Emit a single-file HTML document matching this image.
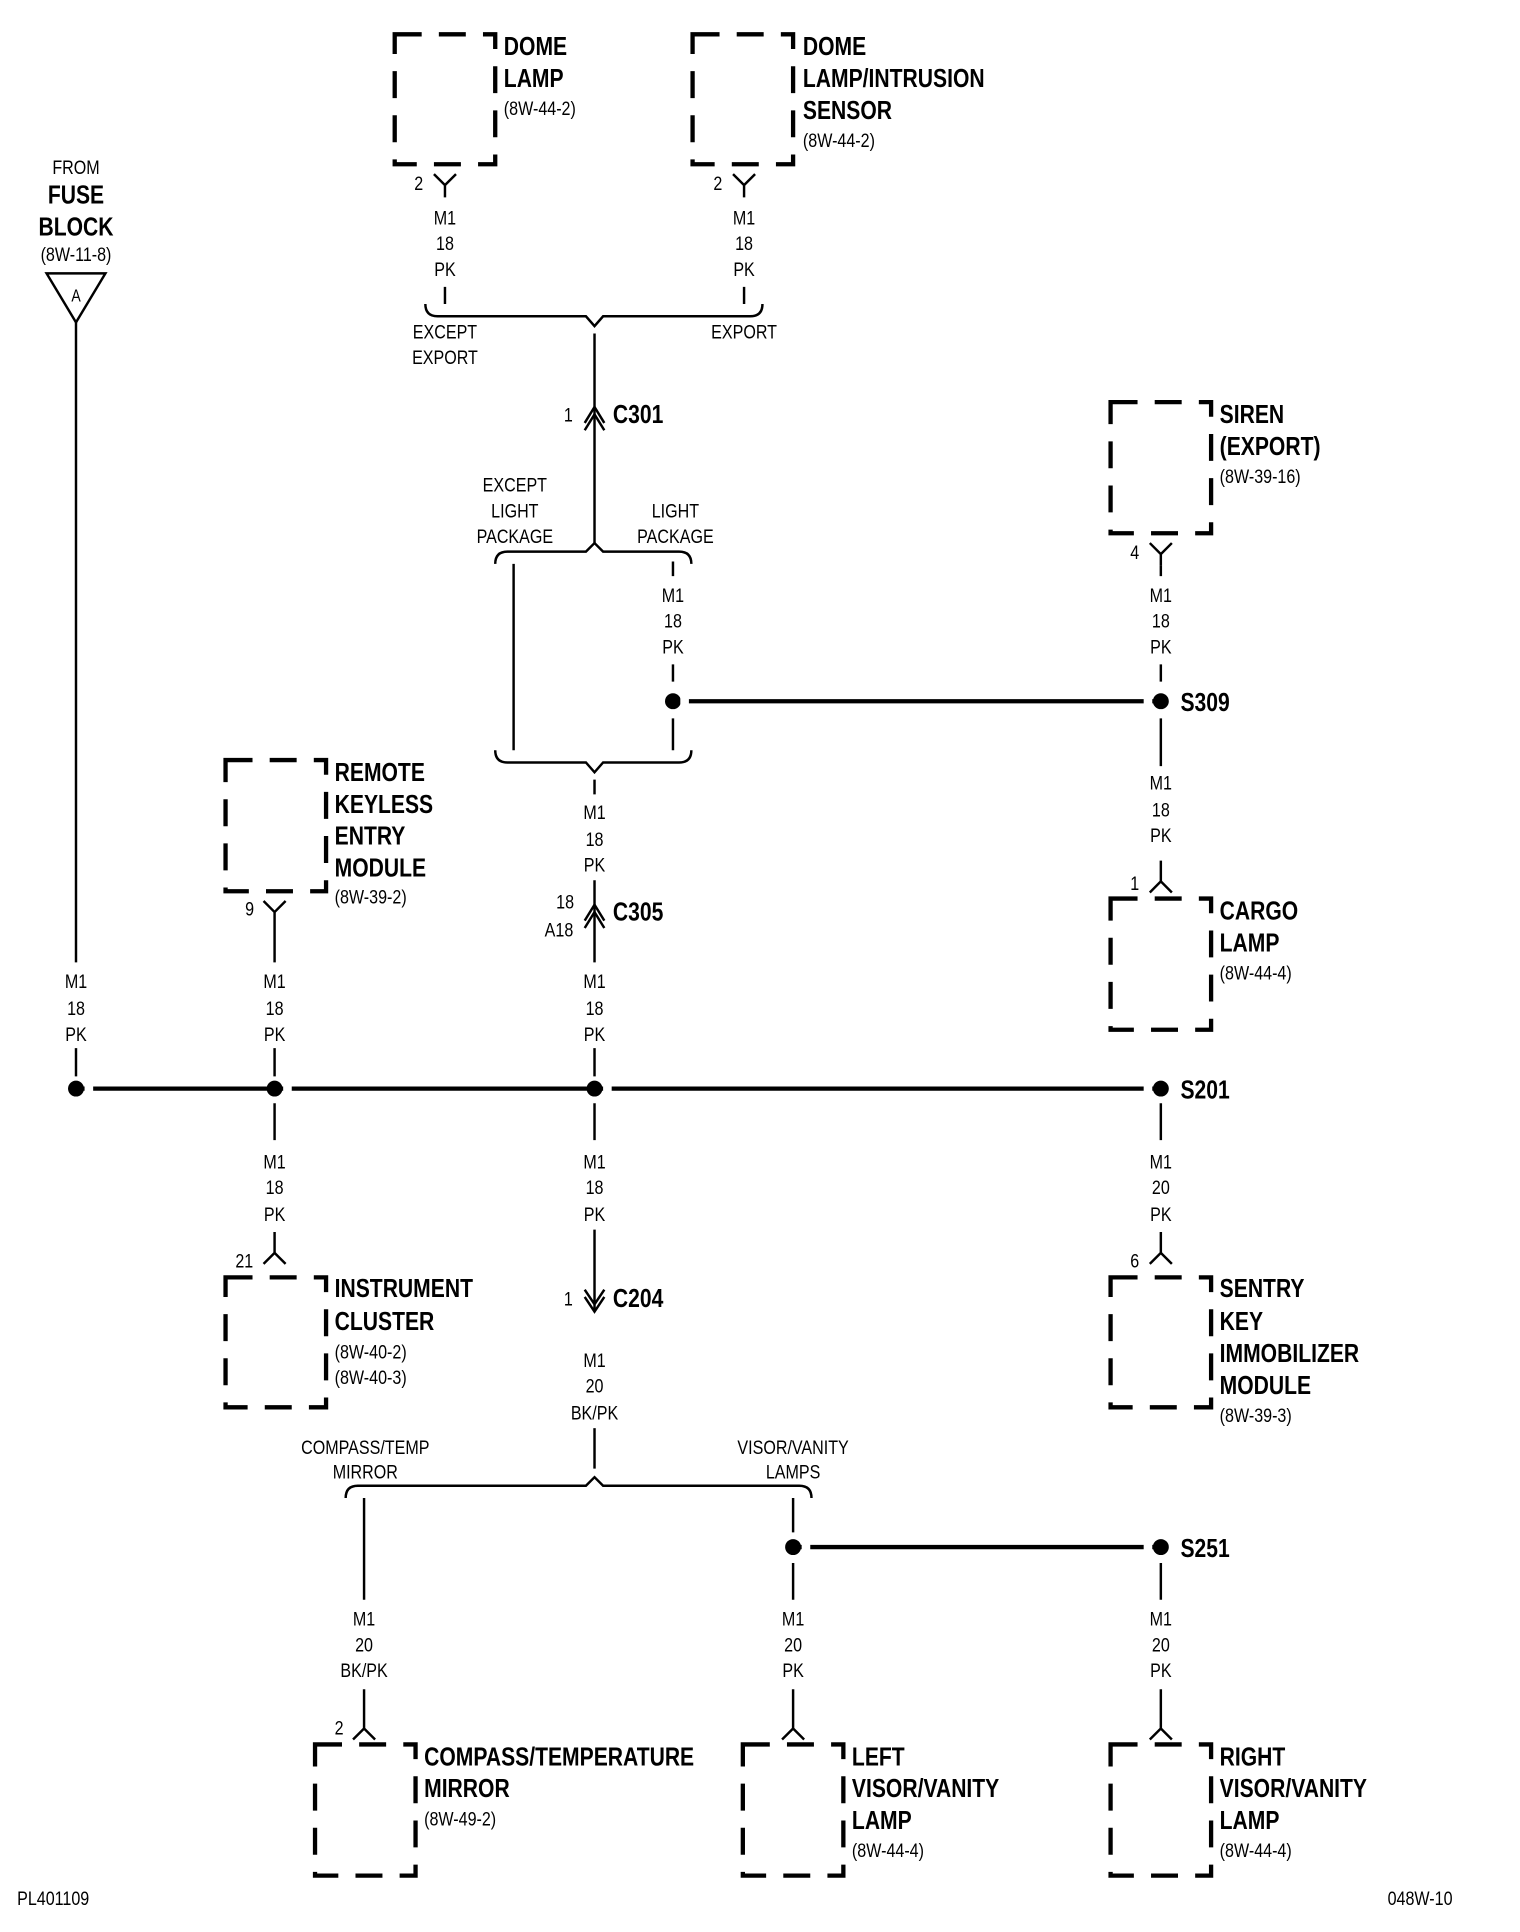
<!DOCTYPE html>
<html><head><meta charset="utf-8"><style>
html,body{margin:0;padding:0;background:#fff}
svg{display:block}
text{font-family:"Liberation Sans Narrow","Liberation Sans",sans-serif;fill:#000;transform-box:fill-box;transform-origin:left center;transform:scaleX(0.82)}
.t{font-size:16px}
.b{font-size:21px;font-weight:bold}
.m{text-anchor:middle;transform-origin:center center}
</style></head><body>
<svg width="1520" height="1932" viewBox="0 0 1240 1576" preserveAspectRatio="none" xmlns="http://www.w3.org/2000/svg">
<g fill="none" stroke="#000" stroke-width="3">
<g stroke-dasharray="22,14" stroke-width="3.5">
<rect x="322" y="28" width="82" height="106"/>
<rect x="565" y="28" width="82" height="106"/>
<rect x="906" y="328" width="82" height="107"/>
<rect x="184" y="620" width="82" height="107"/>
<rect x="906" y="733" width="82" height="107"/>
<rect x="184" y="1042" width="82" height="106"/>
<rect x="906" y="1042" width="82" height="106"/>
<rect x="257" y="1423" width="82" height="107"/>
<rect x="606" y="1423" width="82" height="107"/>
<rect x="906" y="1423" width="82" height="107"/>
</g>
<g stroke-width="2">
<path d="M354 142 L363 151 L372 142 M363 151 V161"/>
<path d="M598 142 L607 151 L616 142 M607 151 V161"/>
<path d="M938 443 L947 452 L956 443 M947 452 V461"/>
<path d="M215 735 L224 744 L233 735 M224 744 V785 M224 855 V878"/>
<path d="M947 702 V720 M938 728 L947 719 L956 728"/>
<path d="M224 1005 V1022 M215 1031 L224 1022 L233 1031"/>
<path d="M947 1005 V1022 M938 1031 L947 1022 L956 1031"/>
<path d="M297 1378 V1410 M288 1419 L297 1410 L306 1419"/>
<path d="M647 1378 V1410 M638 1419 L647 1410 L656 1419"/>
<path d="M947 1378 V1410 M938 1419 L947 1410 L956 1419"/>
<path d="M363 234 V248 M607 234 V248"/>
<path d="M347 248 Q347 258 357 258 H478 L485 266 L492 258 H612 Q622 258 622 248"/>
<path d="M485 272 V443"/>
<path d="M477 345 L485 332 L493 345 M477 351 L485 338 L493 351"/>
<path d="M404 460 Q404 450 414 450 H478 L485 443 L492 450 H554 Q564 450 564 460"/>
<path d="M419 460 V612"/>
<path d="M549 458 V470 M549 542 V556 M549 586 V612"/>
<path d="M404 612 Q404 622 414 622 H478 L485 630 L492 622 H554 Q564 622 564 612"/>
<path d="M485 636 V648 M485 718 V785 M485 855 V878"/>
<path d="M477 751 L485 738 L493 751 M477 757 L485 744 L493 757"/>
<path d="M947 461 V470 M947 542 V556 M947 586 V625"/>
<path d="M38 223 H86 L62 263 Z"/>
<path d="M62 263 V785 M62 855 V878"/>
<path d="M224 900 V930 M485 900 V930 M947 900 V930"/>
<path d="M485 1003 V1070 M477 1052 L485 1064 L493 1052 M477 1058 L485 1070 L493 1058"/>
<path d="M485 1165 V1198"/>
<path d="M282 1222 Q282 1212 292 1212 H478 L485 1205 L492 1212 H652 Q662 1212 662 1222"/>
<path d="M297 1222 V1305 M647 1222 V1250 M647 1275 V1305 M947 1275 V1305"/>
</g>
<g stroke-width="3.5">
<path d="M62 888 H947"/>
<path d="M549 572 H947"/>
<path d="M647 1262 H947"/>
</g>
</g>
<g fill="#000">
<circle cx="62" cy="888" r="6.5"/><circle cx="224" cy="888" r="6.5"/><circle cx="485" cy="888" r="6.5"/><circle cx="947" cy="888" r="6.5"/>
<circle cx="549" cy="572" r="6.5"/><circle cx="947" cy="572" r="6.5"/>
<circle cx="647" cy="1262" r="6.5"/><circle cx="947" cy="1262" r="6.5"/>
</g>
<g stroke="#fff" stroke-width="6">
<path d="M69 888 H76 M231 888 H238 M492 888 H499 M555 572 H562 M654 1262 H661"/>
<path d="M933 888 H940 M933 572 H940 M933 1262 H940"/>
</g>
<text class="b" x="411" y="45">DOME</text>
<text class="b" x="411" y="71">LAMP</text>
<text class="t" x="411" y="94">(8W-44-2)</text>
<text class="b" x="655" y="45">DOME</text>
<text class="b" x="655" y="71">LAMP/INTRUSION</text>
<text class="b" x="655" y="97">SENSOR</text>
<text class="t" x="655" y="120">(8W-44-2)</text>
<text class="t m" x="62" y="142">FROM</text>
<text class="b m" x="62" y="166">FUSE</text>
<text class="b m" x="62" y="192">BLOCK</text>
<text class="t m" x="62" y="213">(8W-11-8)</text>
<text class="t m" x="62" y="246" style="font-size:14px">A</text>
<text class="b" x="995" y="345">SIREN</text>
<text class="b" x="995" y="371">(EXPORT)</text>
<text class="t" x="995" y="394">(8W-39-16)</text>
<text class="b" x="273" y="637">REMOTE</text>
<text class="b" x="273" y="663">KEYLESS</text>
<text class="b" x="273" y="689">ENTRY</text>
<text class="b" x="273" y="715">MODULE</text>
<text class="t" x="273" y="737">(8W-39-2)</text>
<text class="b" x="995" y="750">CARGO</text>
<text class="b" x="995" y="776">LAMP</text>
<text class="t" x="995" y="799">(8W-44-4)</text>
<text class="b" x="273" y="1058">INSTRUMENT</text>
<text class="b" x="273" y="1085">CLUSTER</text>
<text class="t" x="273" y="1108">(8W-40-2)</text>
<text class="t" x="273" y="1129">(8W-40-3)</text>
<text class="b" x="995" y="1058">SENTRY</text>
<text class="b" x="995" y="1085">KEY</text>
<text class="b" x="995" y="1111">IMMOBILIZER</text>
<text class="b" x="995" y="1137">MODULE</text>
<text class="t" x="995" y="1160">(8W-39-3)</text>
<text class="b" x="346" y="1440">COMPASS/TEMPERATURE</text>
<text class="b" x="346" y="1466">MIRROR</text>
<text class="t" x="346" y="1489">(8W-49-2)</text>
<text class="b" x="695" y="1440">LEFT</text>
<text class="b" x="695" y="1466">VISOR/VANITY</text>
<text class="b" x="695" y="1492">LAMP</text>
<text class="t" x="695" y="1515">(8W-44-4)</text>
<text class="b" x="995" y="1440">RIGHT</text>
<text class="b" x="995" y="1466">VISOR/VANITY</text>
<text class="b" x="995" y="1492">LAMP</text>
<text class="t" x="995" y="1515">(8W-44-4)</text>
<text class="b" x="500" y="345">C301</text><text class="t" x="460" y="344">1</text>
<text class="b" x="500" y="751">C305</text><text class="t m" x="461" y="741">18</text><text class="t m" x="456" y="764">A18</text>
<text class="b" x="500" y="1066">C204</text><text class="t" x="460" y="1065">1</text>
<text class="b" x="963" y="580">S309</text>
<text class="b" x="963" y="896">S201</text>
<text class="b" x="963" y="1270">S251</text>
<text class="t" x="338" y="155">2</text><text class="t" x="582" y="155">2</text>
<text class="t" x="922" y="456">4</text><text class="t" x="200" y="747">9</text>
<text class="t" x="922" y="726">1</text><text class="t" x="192" y="1034">21</text>
<text class="t" x="922" y="1034">6</text><text class="t" x="273" y="1415">2</text>
<text class="t m" x="363" y="276">EXCEPT</text><text class="t m" x="363" y="297">EXPORT</text>
<text class="t m" x="607" y="276">EXPORT</text>
<text class="t m" x="420" y="401">EXCEPT</text><text class="t m" x="420" y="422">LIGHT</text><text class="t m" x="420" y="443">PACKAGE</text>
<text class="t m" x="551" y="422">LIGHT</text><text class="t m" x="551" y="443">PACKAGE</text>
<text class="t m" x="298" y="1186">COMPASS/TEMP</text><text class="t m" x="298" y="1206">MIRROR</text>
<text class="t m" x="647" y="1186">VISOR/VANITY</text><text class="t m" x="647" y="1206">LAMPS</text>
<text class="t m" x="363" y="183">M1</text><text class="t m" x="363" y="204">18</text><text class="t m" x="363" y="225">PK</text>
<text class="t m" x="607" y="183">M1</text><text class="t m" x="607" y="204">18</text><text class="t m" x="607" y="225">PK</text>
<text class="t m" x="549" y="491">M1</text><text class="t m" x="549" y="512">18</text><text class="t m" x="549" y="533">PK</text>
<text class="t m" x="947" y="491">M1</text><text class="t m" x="947" y="512">18</text><text class="t m" x="947" y="533">PK</text>
<text class="t m" x="947" y="644">M1</text><text class="t m" x="947" y="666">18</text><text class="t m" x="947" y="687">PK</text>
<text class="t m" x="485" y="668">M1</text><text class="t m" x="485" y="690">18</text><text class="t m" x="485" y="711">PK</text>
<text class="t m" x="62" y="806">M1</text><text class="t m" x="62" y="828">18</text><text class="t m" x="62" y="849">PK</text>
<text class="t m" x="224" y="806">M1</text><text class="t m" x="224" y="828">18</text><text class="t m" x="224" y="849">PK</text>
<text class="t m" x="485" y="806">M1</text><text class="t m" x="485" y="828">18</text><text class="t m" x="485" y="849">PK</text>
<text class="t m" x="224" y="953">M1</text><text class="t m" x="224" y="974">18</text><text class="t m" x="224" y="996">PK</text>
<text class="t m" x="485" y="953">M1</text><text class="t m" x="485" y="974">18</text><text class="t m" x="485" y="996">PK</text>
<text class="t m" x="947" y="953">M1</text><text class="t m" x="947" y="974">20</text><text class="t m" x="947" y="996">PK</text>
<text class="t m" x="485" y="1115">M1</text><text class="t m" x="485" y="1136">20</text><text class="t m" x="485" y="1158">BK/PK</text>
<text class="t m" x="297" y="1326">M1</text><text class="t m" x="297" y="1347">20</text><text class="t m" x="297" y="1368">BK/PK</text>
<text class="t m" x="647" y="1326">M1</text><text class="t m" x="647" y="1347">20</text><text class="t m" x="647" y="1368">PK</text>
<text class="t m" x="947" y="1326">M1</text><text class="t m" x="947" y="1347">20</text><text class="t m" x="947" y="1368">PK</text>
<text class="t" x="14" y="1554">PL401109</text>
<text class="t" x="1132" y="1554">048W-10</text>
</svg>
</body></html>
